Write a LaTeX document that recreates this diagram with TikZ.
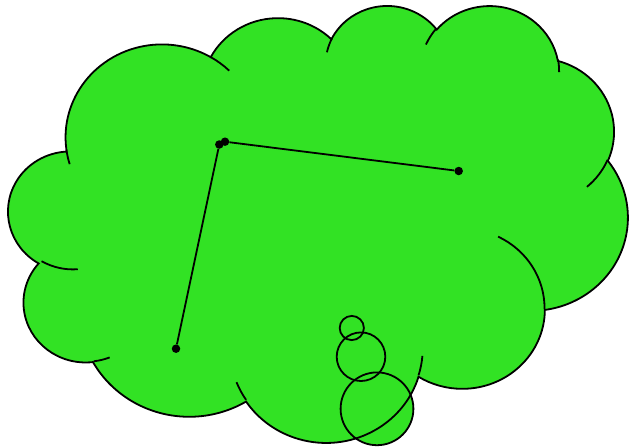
\documentclass[tikz,border=0pt]{standalone}
\definecolor{cloudgreen}{RGB}{50,226,36}
\tikzset{
  oarc/.style n args={4}{insert path={arc[x radius=#1, y radius=#2,
      start angle={atan2((#1)*sin(#3),(#2)*cos(#3))},
      delta angle={mod(atan2((#1)*sin((#3)+(#4)),(#2)*cos((#3)+(#4)))-atan2((#1)*sin(#3),(#2)*cos(#3))+720,360)}]}},
  cloudmain/.style={insert path={(39.00,143.70)
      [oarc={67.53}{91.90}{-190.4875}{123.7805}]
      [oarc={53.33}{72.67}{-144.1024}{89.9452}]
      [oarc={43.65}{59.45}{-145.8079}{99.7230}]
      [oarc={48.57}{65.95}{-130.9861}{117.2417}]
      [oarc={53.33}{72.73}{-78.7089}{109.0269}]
      [oarc={67.75}{92.20}{-46.2673}{130.2690}]
      [oarc={57.85}{78.67}{0.6250}{114.0333}]
      [oarc={67.52}{92.15}{22.4516}{115.1726}]
      [oarc={77.20}{105.43}{66.2426}{76.4959}]
      [oarc={43.60}{59.18}{85.0579}{144.5538}]
      [oarc={43.45}{59.45}{113.1715}{154.49}] -- cycle}},
  outline/.style={draw=black, line width=1.8pt},
  bubble/.style={line width=1.8pt},
  dot/.style={circle, fill=black, inner sep=0pt, minimum size=8.5pt},
  link/.style={draw=black, line width=1.8pt},
}
\begin{document}
\begin{tikzpicture}[x=1pt,y=-1pt]
\useasboundingbox (0,0) rectangle (631,447);
% fills
\begin{scope}[shift={(10.74,4.55)}, x=1.42801pt, y=-1.01111pt]
  \fill[cloudgreen] [cloudmain];
\end{scope}
\fill[cloudgreen] (377,408.8) circle[radius=36.4];
\fill[cloudgreen] (361,356.7) circle[radius=24.3];
\fill[cloudgreen] (351.8,328) circle[radius=12.1];
% outlines
\begin{scope}[shift={(10.74,4.55)}, x=1.42801pt, y=-1.01111pt]
  \draw[outline] [cloudmain];
  \draw[outline] (46.93,261.77) [oarc={43.45}{59.45}{86.7420}{26.4295}];
  \draw[outline] (69.28,348.99) [oarc={43.60}{59.18}{73.6105}{11.4475}];
  \draw[outline] (164.78,390.90) [oarc={67.52}{92.15}{137.6242}{14.0811}];
  \draw[outline] (288.27,347.51) [oarc={67.52}{92.15}{6.4533}{15.9984}];
  \draw[outline] (341.29,229.54) [oarc={57.85}{78.67}{-70.2924}{70.9174}];
  \draw[outline] (417.98,153.54) [oarc={53.33}{72.73}{30.3180}{27.7515}];
  \draw[outline] (383.24,54.26) [oarc={48.57}{65.95}{-13.7443}{14.8596}];
  \draw[outline] (290.78,39.52) [oarc={48.57}{65.95}{-149.1815}{18.1885}];
  \draw[outline] (221.41,47.20) [oarc={43.65}{59.45}{-163.4943}{17.6981}];
  \draw[outline] (140.00,51.92) [oarc={67.53}{91.90}{-66.7070}{12.3194}];
  \draw[outline] (41.27,157.89) [oarc={67.53}{91.90}{157.6544}{11.8582}];
\end{scope}
\draw[bubble] (377,408.8) circle[radius=36.4];
\draw[bubble] (361,356.7) circle[radius=24.3];
\draw[bubble] (351.8,328) circle[radius=12.1];
% dots and links
\node[dot] (a) at (176,348.7) {};
\node[dot] (b) at (219.3,144.5) {};
\node[dot] (c) at (225,141.7) {};
\node[dot] (d) at (458.7,171) {};
\draw[link] (a) -- (b);
\draw[link] (c) -- (d);
\end{tikzpicture}
\end{document}
